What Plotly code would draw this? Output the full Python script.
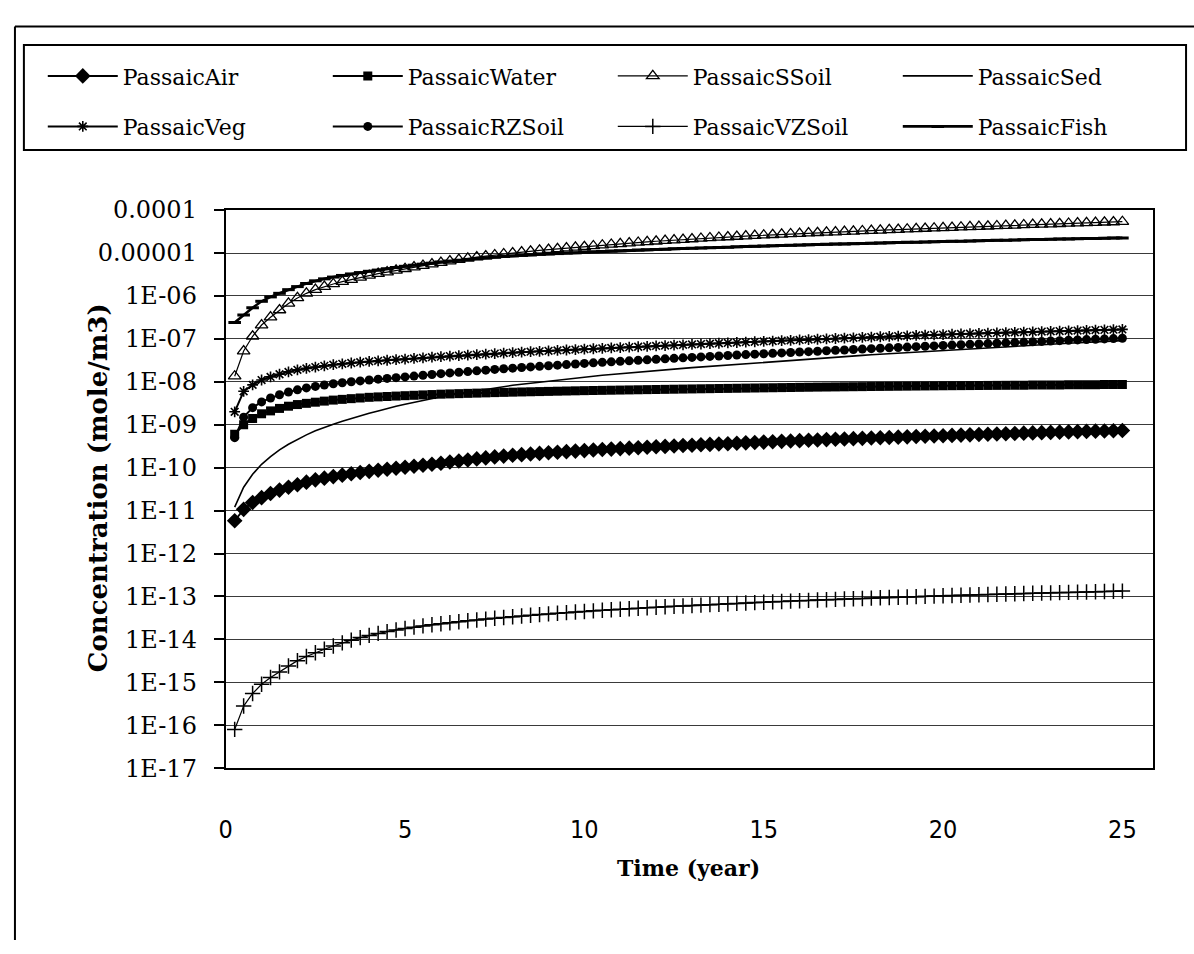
import plotly.graph_objects as go

# ---------------- data ----------------
time_year = [0.25, 0.5, 0.75, 1.0, 1.25, 1.5, 1.75, 2.0, 2.25, 2.5, 2.75, 3.0, 3.25, 3.5, 3.75, 4.0,
             4.25, 4.5, 4.75, 5.0, 5.25, 5.5, 5.75, 6.0, 6.25, 6.5, 6.75, 7.0, 7.25, 7.5, 7.75, 8.0,
             8.25, 8.5, 8.75, 9.0, 9.25, 9.5, 9.75, 10.0, 10.25, 10.5, 10.75, 11.0, 11.25, 11.5, 11.75, 12.0,
             12.25, 12.5, 12.75, 13.0, 13.25, 13.5, 13.75, 14.0, 14.25, 14.5, 14.75, 15.0, 15.25, 15.5, 15.75, 16.0,
             16.25, 16.5, 16.75, 17.0, 17.25, 17.5, 17.75, 18.0, 18.25, 18.5, 18.75, 19.0, 19.25, 19.5, 19.75, 20.0,
             20.25, 20.5, 20.75, 21.0, 21.25, 21.5, 21.75, 22.0, 22.25, 22.5, 22.75, 23.0, 23.25, 23.5, 23.75, 24.0,
             24.25, 24.5, 24.75, 25.0]

passaic_air = [5.8e-12, 1.07e-11, 1.55e-11, 2.0e-11, 2.5e-11, 3.0e-11, 3.5e-11, 4.0e-11, 4.6e-11, 5.2e-11,
               5.7e-11, 6.2e-11, 6.7e-11, 7.2e-11, 7.7e-11, 8.2e-11, 8.7e-11, 9.2e-11, 9.7e-11, 1.02e-10,
               1.08e-10, 1.14e-10, 1.2e-10, 1.27e-10, 1.35e-10, 1.43e-10, 1.51e-10, 1.6e-10, 1.69e-10, 1.78e-10,
               1.86e-10, 1.94e-10, 2.01e-10, 2.08e-10, 2.15e-10, 2.22e-10, 2.29e-10, 2.36e-10, 2.43e-10, 2.5e-10,
               2.57e-10, 2.64e-10, 2.71e-10, 2.78e-10, 2.85e-10, 2.92e-10, 2.99e-10, 3.06e-10,
               3.13e-10, 3.2e-10, 3.27e-10, 3.34e-10, 3.41e-10, 3.48e-10, 3.55e-10, 3.62e-10,
               3.7e-10, 3.78e-10, 3.86e-10, 3.94e-10, 4.02e-10, 4.1e-10, 4.18e-10, 4.26e-10,
               4.34e-10, 4.42e-10, 4.5e-10, 4.58e-10, 4.66e-10, 4.74e-10, 4.82e-10, 4.9e-10,
               4.98e-10, 5.06e-10, 5.14e-10, 5.22e-10, 5.3e-10, 5.38e-10, 5.46e-10, 5.55e-10,
               5.64e-10, 5.73e-10, 5.82e-10, 5.91e-10, 6.0e-10, 6.09e-10, 6.18e-10, 6.27e-10,
               6.36e-10, 6.45e-10, 6.54e-10, 6.63e-10, 6.72e-10, 6.81e-10, 6.9e-10, 6.99e-10,
               7.08e-10, 7.17e-10, 7.26e-10, 7.35e-10]

passaic_water = [6.0e-10, 1.0e-9, 1.4e-9, 1.8e-9, 2.1e-9, 2.4e-9, 2.7e-9, 2.95e-9, 3.15e-9, 3.35e-9,
                 3.55e-9, 3.75e-9, 3.9e-9, 4.05e-9, 4.2e-9, 4.35e-9, 4.45e-9, 4.55e-9, 4.65e-9, 4.75e-9,
                 4.85e-9, 4.95e-9, 5.05e-9, 5.15e-9, 5.22e-9, 5.3e-9, 5.38e-9, 5.45e-9, 5.52e-9, 5.6e-9,
                 5.67e-9, 5.74e-9, 5.8e-9, 5.86e-9, 5.92e-9, 5.98e-9, 6.04e-9, 6.1e-9, 6.16e-9, 6.22e-9,
                 6.27e-9, 6.32e-9, 6.37e-9, 6.42e-9, 6.47e-9, 6.52e-9, 6.57e-9, 6.62e-9,
                 6.67e-9, 6.72e-9, 6.77e-9, 6.82e-9, 6.87e-9, 6.92e-9, 6.97e-9, 7.02e-9,
                 7.07e-9, 7.12e-9, 7.17e-9, 7.22e-9, 7.27e-9, 7.32e-9, 7.37e-9, 7.42e-9,
                 7.47e-9, 7.52e-9, 7.56e-9, 7.6e-9, 7.64e-9, 7.68e-9, 7.72e-9, 7.76e-9,
                 7.8e-9, 7.84e-9, 7.88e-9, 7.92e-9, 7.96e-9, 8.0e-9, 8.04e-9, 8.08e-9,
                 8.11e-9, 8.14e-9, 8.17e-9, 8.2e-9, 8.23e-9, 8.26e-9, 8.29e-9, 8.32e-9,
                 8.35e-9, 8.38e-9, 8.41e-9, 8.44e-9, 8.47e-9, 8.5e-9, 8.53e-9, 8.56e-9,
                 8.59e-9, 8.62e-9, 8.65e-9, 8.68e-9]

passaic_ssoil = [1.35e-8, 5.2e-8, 1.15e-7, 2.1e-7, 3.2e-7, 4.7e-7, 6.7e-7, 9.0e-7, 1.15e-6, 1.4e-6,
                 1.65e-6, 1.9e-6, 2.15e-6, 2.4e-6, 2.7e-6, 3.0e-6, 3.3e-6, 3.6e-6, 3.95e-6, 4.3e-6,
                 4.7e-6, 5.1e-6, 5.5e-6, 6.0e-6, 6.5e-6, 7.0e-6, 7.5e-6, 8.0e-6, 8.5e-6, 9.0e-6,
                 9.5e-6, 1.0e-5, 1.05e-5, 1.1e-5, 1.15e-5, 1.2e-5, 1.25e-5, 1.3e-5, 1.35e-5, 1.4e-5,
                 1.46e-5, 1.52e-5, 1.58e-5, 1.64e-5, 1.7e-5, 1.76e-5, 1.82e-5, 1.88e-5,
                 1.94e-5, 2.0e-5, 2.06e-5, 2.12e-5, 2.18e-5, 2.24e-5, 2.3e-5, 2.36e-5,
                 2.42e-5, 2.48e-5, 2.54e-5, 2.6e-5, 2.66e-5, 2.72e-5, 2.78e-5, 2.84e-5,
                 2.9e-5, 2.96e-5, 3.02e-5, 3.08e-5, 3.14e-5, 3.2e-5, 3.26e-5, 3.32e-5,
                 3.38e-5, 3.45e-5, 3.52e-5, 3.58e-5, 3.65e-5, 3.72e-5, 3.78e-5, 3.85e-5,
                 3.92e-5, 3.99e-5, 4.06e-5, 4.13e-5, 4.2e-5, 4.27e-5, 4.35e-5, 4.42e-5,
                 4.5e-5, 4.57e-5, 4.65e-5, 4.72e-5, 4.8e-5, 4.88e-5, 4.96e-5, 5.04e-5,
                 5.12e-5, 5.2e-5, 5.28e-5, 5.36e-5]

passaic_sed = [1.2e-11, 3.5e-11, 7.0e-11, 1.2e-10, 1.8e-10, 2.6e-10, 3.5e-10, 4.6e-10, 5.8e-10, 7.2e-10,
               8.7e-10, 1.03e-9, 1.2e-9, 1.4e-9, 1.6e-9, 1.85e-9, 2.1e-9, 2.4e-9, 2.7e-9, 3.0e-9,
               3.35e-9, 3.7e-9, 4.1e-9, 4.5e-9, 4.9e-9, 5.3e-9, 5.8e-9, 6.3e-9, 6.8e-9, 7.3e-9,
               7.8e-9, 8.3e-9, 8.8e-9, 9.3e-9, 9.9e-9, 1.05e-8, 1.11e-8, 1.17e-8, 1.23e-8, 1.3e-8,
               1.36e-8, 1.42e-8, 1.48e-8, 1.55e-8, 1.62e-8, 1.69e-8, 1.76e-8, 1.83e-8,
               1.9e-8, 1.98e-8, 2.06e-8, 2.14e-8, 2.22e-8, 2.3e-8, 2.39e-8, 2.48e-8,
               2.57e-8, 2.66e-8, 2.76e-8, 2.86e-8, 2.96e-8, 3.06e-8, 3.17e-8, 3.28e-8,
               3.39e-8, 3.5e-8, 3.62e-8, 3.74e-8, 3.86e-8, 3.99e-8, 4.12e-8, 4.25e-8,
               4.38e-8, 4.52e-8, 4.66e-8, 4.8e-8, 4.95e-8, 5.1e-8, 5.25e-8, 5.4e-8,
               5.56e-8, 5.72e-8, 5.88e-8, 6.05e-8, 6.22e-8, 6.39e-8, 6.57e-8, 6.75e-8,
               6.93e-8, 7.12e-8, 7.31e-8, 7.5e-8, 7.7e-8, 7.9e-8, 8.1e-8, 8.3e-8,
               8.5e-8, 8.7e-8, 8.9e-8, 9.1e-8]

passaic_veg = [2.0e-9, 6.0e-9, 8.5e-9, 1.1e-8, 1.3e-8, 1.5e-8, 1.7e-8, 1.9e-8, 2.05e-8, 2.2e-8,
               2.35e-8, 2.5e-8, 2.62e-8, 2.74e-8, 2.86e-8, 2.98e-8, 3.08e-8, 3.18e-8, 3.28e-8, 3.38e-8,
               3.5e-8, 3.62e-8, 3.74e-8, 3.86e-8, 3.97e-8, 4.08e-8, 4.19e-8, 4.3e-8, 4.42e-8, 4.54e-8,
               4.66e-8, 4.78e-8, 4.9e-8, 5.02e-8, 5.14e-8, 5.26e-8, 5.38e-8, 5.5e-8, 5.63e-8, 5.76e-8,
               5.89e-8, 6.02e-8, 6.15e-8, 6.28e-8, 6.42e-8, 6.56e-8, 6.7e-8, 6.84e-8,
               6.98e-8, 7.13e-8, 7.28e-8, 7.43e-8, 7.58e-8, 7.74e-8, 7.9e-8, 8.06e-8,
               8.22e-8, 8.39e-8, 8.56e-8, 8.73e-8, 8.9e-8, 9.08e-8, 9.26e-8, 9.44e-8,
               9.62e-8, 9.81e-8, 1.0e-7, 1.02e-7, 1.04e-7, 1.06e-7, 1.08e-7, 1.1e-7,
               1.12e-7, 1.14e-7, 1.16e-7, 1.18e-7, 1.2e-7, 1.22e-7, 1.24e-7, 1.26e-7,
               1.28e-7, 1.3e-7, 1.32e-7, 1.34e-7, 1.36e-7, 1.38e-7, 1.4e-7, 1.42e-7,
               1.44e-7, 1.46e-7, 1.48e-7, 1.5e-7, 1.52e-7, 1.54e-7, 1.56e-7, 1.58e-7,
               1.6e-7, 1.62e-7, 1.64e-7, 1.66e-7]

passaic_rzsoil = [5.0e-10, 1.5e-9, 2.5e-9, 3.4e-9, 4.2e-9, 5.0e-9, 5.8e-9, 6.5e-9, 7.2e-9, 7.8e-9,
                  8.4e-9, 9.0e-9, 9.5e-9, 1.0e-8, 1.05e-8, 1.1e-8, 1.15e-8, 1.2e-8, 1.25e-8, 1.3e-8,
                  1.36e-8, 1.42e-8, 1.48e-8, 1.55e-8, 1.61e-8, 1.67e-8, 1.73e-8, 1.8e-8, 1.87e-8, 1.94e-8,
                  2.01e-8, 2.08e-8, 2.15e-8, 2.22e-8, 2.29e-8, 2.36e-8, 2.44e-8, 2.52e-8, 2.6e-8, 2.68e-8,
                  2.76e-8, 2.84e-8, 2.92e-8, 3.0e-8, 3.08e-8, 3.16e-8, 3.25e-8, 3.34e-8,
                  3.43e-8, 3.52e-8, 3.61e-8, 3.7e-8, 3.8e-8, 3.9e-8, 4.0e-8, 4.1e-8,
                  4.2e-8, 4.3e-8, 4.4e-8, 4.5e-8, 4.6e-8, 4.71e-8, 4.82e-8, 4.93e-8,
                  5.04e-8, 5.16e-8, 5.28e-8, 5.4e-8, 5.52e-8, 5.65e-8, 5.78e-8, 5.91e-8,
                  6.04e-8, 6.17e-8, 6.3e-8, 6.44e-8, 6.58e-8, 6.72e-8, 6.86e-8, 7.0e-8,
                  7.15e-8, 7.3e-8, 7.45e-8, 7.6e-8, 7.76e-8, 7.92e-8, 8.08e-8, 8.24e-8,
                  8.4e-8, 8.57e-8, 8.74e-8, 8.91e-8, 9.08e-8, 9.26e-8, 9.44e-8, 9.62e-8,
                  9.8e-8, 9.98e-8, 1.016e-7, 1.034e-7]

passaic_vzsoil = [8.0e-17, 2.8e-16, 5.5e-16, 9.0e-16, 1.3e-15, 1.75e-15, 2.4e-15, 3.2e-15, 4.0e-15, 4.9e-15,
                  5.9e-15, 7.0e-15, 8.3e-15, 9.6e-15, 1.1e-14, 1.24e-14, 1.38e-14, 1.52e-14, 1.66e-14, 1.8e-14,
                  1.93e-14, 2.06e-14, 2.19e-14, 2.32e-14, 2.45e-14, 2.58e-14, 2.71e-14, 2.84e-14, 2.97e-14, 3.1e-14,
                  3.23e-14, 3.36e-14, 3.5e-14, 3.64e-14, 3.78e-14, 3.92e-14, 4.06e-14, 4.2e-14, 4.34e-14, 4.48e-14,
                  4.62e-14, 4.76e-14, 4.9e-14, 5.04e-14, 5.18e-14, 5.32e-14, 5.46e-14, 5.6e-14,
                  5.74e-14, 5.88e-14, 6.02e-14, 6.16e-14, 6.3e-14, 6.45e-14, 6.6e-14, 6.75e-14,
                  6.9e-14, 7.05e-14, 7.2e-14, 7.35e-14, 7.5e-14, 7.65e-14, 7.8e-14, 7.95e-14,
                  8.1e-14, 8.25e-14, 8.4e-14, 8.55e-14, 8.7e-14, 8.85e-14, 9.0e-14, 9.15e-14,
                  9.3e-14, 9.45e-14, 9.6e-14, 9.75e-14, 9.9e-14, 1.005e-13, 1.02e-13, 1.035e-13,
                  1.05e-13, 1.065e-13, 1.08e-13, 1.095e-13, 1.11e-13, 1.125e-13, 1.14e-13, 1.155e-13,
                  1.17e-13, 1.185e-13, 1.2e-13, 1.215e-13, 1.23e-13, 1.245e-13, 1.26e-13, 1.275e-13,
                  1.29e-13, 1.305e-13, 1.32e-13, 1.335e-13]

passaic_fish = [2.4e-7, 3.6e-7, 5.3e-7, 7.5e-7, 9.5e-7, 1.15e-6, 1.4e-6, 1.65e-6, 1.95e-6, 2.25e-6,
                2.5e-6, 2.75e-6, 3.0e-6, 3.25e-6, 3.5e-6, 3.75e-6, 4.0e-6, 4.3e-6, 4.6e-6, 4.9e-6,
                5.2e-6, 5.5e-6, 5.8e-6, 6.2e-6, 6.5e-6, 6.8e-6, 7.1e-6, 7.4e-6, 7.7e-6, 8.0e-6,
                8.3e-6, 8.6e-6, 8.8e-6, 9.0e-6, 9.3e-6, 9.5e-6, 9.7e-6, 1.0e-5, 1.02e-5, 1.05e-5,
                1.07e-5, 1.09e-5, 1.11e-5, 1.13e-5, 1.15e-5, 1.17e-5, 1.19e-5, 1.21e-5,
                1.23e-5, 1.25e-5, 1.27e-5, 1.29e-5, 1.31e-5, 1.33e-5, 1.35e-5, 1.37e-5,
                1.39e-5, 1.41e-5, 1.43e-5, 1.45e-5, 1.47e-5, 1.49e-5, 1.51e-5, 1.53e-5,
                1.55e-5, 1.57e-5, 1.59e-5, 1.61e-5, 1.63e-5, 1.65e-5, 1.67e-5, 1.69e-5,
                1.71e-5, 1.73e-5, 1.75e-5, 1.77e-5, 1.79e-5, 1.81e-5, 1.83e-5, 1.85e-5,
                1.87e-5, 1.89e-5, 1.91e-5, 1.93e-5, 1.95e-5, 1.97e-5, 1.99e-5, 2.01e-5,
                2.03e-5, 2.05e-5, 2.07e-5, 2.09e-5, 2.11e-5, 2.13e-5, 2.15e-5, 2.17e-5,
                2.19e-5, 2.21e-5, 2.23e-5, 2.25e-5]

y_tick_values = [1e-4, 1e-5, 1e-6, 1e-7, 1e-8, 1e-9, 1e-10, 1e-11, 1e-12, 1e-13, 1e-14, 1e-15, 1e-16, 1e-17]
y_tick_labels = ["0.0001", "0.00001", "1E-06", "1E-07", "1E-08", "1E-09", "1E-10", "1E-11",
                 "1E-12", "1E-13", "1E-14", "1E-15", "1E-16", "1E-17"]
x_tick_values = [0, 5, 10, 15, 20, 25]
x_tick_labels = ["0", "5", "10", "15", "20", "25"]

# ---------------- styling ----------------
W, H = 1194, 954
SERIF = "DejaVu Serif, Liberation Serif, serif"
NARROW = "Liberation Sans Narrow, DejaVu Sans Condensed, Arial Narrow, sans-serif"

plot_left, plot_right = 220, 1153
plot_top, plot_bottom = 202, 777
legend_box = (17, 32, 1186, 140)      # left, top, right, bottom (px)
legend_rows_y = (64, 116)             # row centres (px)
legend_x = 36

series = [
    ("PassaicAir", passaic_air, dict(symbol="diamond", size=12, color="black"), 2, "legend"),
    ("PassaicWater", passaic_water, dict(symbol="square", size=9, color="black"), 2, "legend"),
    ("PassaicSSoil", passaic_ssoil, dict(symbol="triangle-up-open", size=11, color="black",
                                         line=dict(width=1.3, color="black")), 1.2, "legend"),
    ("PassaicSed", passaic_sed, None, 1.6, "legend"),
    ("PassaicVeg", passaic_veg, dict(symbol="asterisk-open", size=9, color="black",
                                     line=dict(width=1.6, color="black")), 2, "legend2"),
    ("PassaicRZSoil", passaic_rzsoil, dict(symbol="circle", size=9, color="black"), 2, "legend2"),
    ("PassaicVZSoil", passaic_vzsoil, dict(symbol="cross-thin-open", size=11, color="black",
                                           line=dict(width=1.5, color="black")), 1.2, "legend2"),
    ("PassaicFish", passaic_fish, dict(symbol="line-ew-open", size=9, color="black",
                                       line=dict(width=3, color="black")), 2.6, "legend2"),
]

fig = go.Figure()
for name, vals, marker, lw, leg in series:
    fig.add_trace(go.Scatter(
        x=time_year, y=vals, name=name, legend=leg,
        mode="lines+markers" if marker else "lines",
        line=dict(color="black", width=lw),
        marker=marker if marker else None,
    ))

legend_common = dict(
    orientation="h", xanchor="left", yanchor="middle",
    entrywidth=200, entrywidthmode="pixels", itemwidth=70,
    borderwidth=0, bgcolor="rgba(0,0,0,0)",
    font=dict(family=SERIF, size=22, color="black"),
    tracegroupgap=0,
)

fig.update_layout(
    width=W, height=H,
    margin=dict(l=0, r=0, t=0, b=0),
    paper_bgcolor="white", plot_bgcolor="white",
    showlegend=True,
    legend=dict(x=legend_x / W, y=1 - legend_rows_y[0] / H, **legend_common),
    legend2=dict(x=legend_x / W, y=1 - legend_rows_y[1] / H, **legend_common),
    xaxis=dict(
        domain=[plot_left / W, plot_right / W],
        range=[0, 25.86],
        tickmode="array", tickvals=x_tick_values, ticktext=x_tick_labels,
        ticks="", ticklabelstandoff=38,
        tickfont=dict(family=NARROW, size=25, color="black"),
        showgrid=False, zeroline=False,
        showline=True, linecolor="black", linewidth=2, mirror=True,
    ),
    yaxis=dict(
        domain=[1 - plot_bottom / H, 1 - plot_top / H],
        type="log", range=[-17, -4],
        tickmode="array", tickvals=y_tick_values, ticktext=y_tick_labels,
        ticks="outside", ticklen=10, tickwidth=2, tickcolor="black",
        ticklabelstandoff=12,
        tickfont=dict(family=SERIF, size=24, color="black"),
        showgrid=True, gridcolor="#3a3a3a", gridwidth=1,
        zeroline=False,
        showline=True, linecolor="black", linewidth=2, mirror=True,
    ),
    annotations=[
        dict(text="<b>Concentration (mole/m3)</b>", textangle=-90,
             x=74 / W, y=1 - 488 / H, xref="paper", yref="paper",
             showarrow=False, font=dict(family=SERIF, size=26, color="black")),
        dict(text="<b>Time (year)</b>",
             x=686 / W, y=1 - 895 / H, xref="paper", yref="paper",
             showarrow=False, font=dict(family=SERIF, size=22, color="black")),
    ],
    shapes=[
        dict(type="line", xref="paper", yref="paper", x0=8 / W, x1=1.0, y0=1 - 13 / H, y1=1 - 13 / H,
             line=dict(color="black", width=2)),
        dict(type="line", xref="paper", yref="paper", x0=8 / W, x1=8 / W, y0=0, y1=1 - 13 / H,
             line=dict(color="black", width=2)),
        dict(type="rect", xref="paper", yref="paper",
             x0=legend_box[0] / W, x1=legend_box[2] / W,
             y0=1 - legend_box[3] / H, y1=1 - legend_box[1] / H,
             line=dict(color="black", width=2), fillcolor="rgba(0,0,0,0)"),
    ],
)

fig.write_html("out.html")
